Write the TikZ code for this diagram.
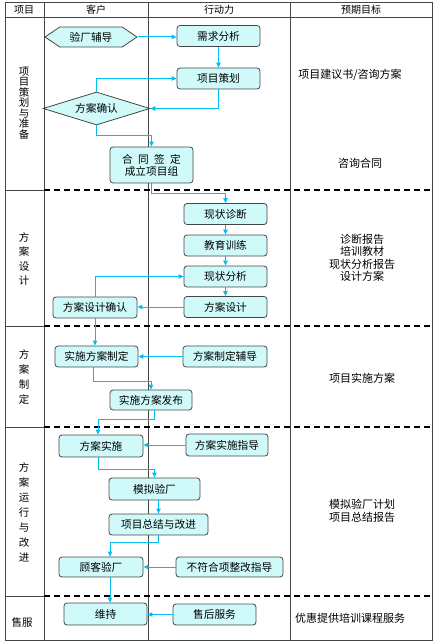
\documentclass[tikz,border=0pt]{standalone}
\usepackage{fontspec}
\setmainfont{Noto Sans CJK SC}
\usetikzlibrary{arrows.meta, shapes.geometric, shapes.symbols}
\definecolor{boxcolor}{RGB}{208,250,250}
\definecolor{flowcolor}{RGB}{0,190,240}
\definecolor{gridcolor}{RGB}{70,70,70}

\begin{document}
\begin{tikzpicture}[x=1pt, y=-1pt, font=\fontsize{10}{11}\selectfont]
    % Define the styles for the table, the boxes and the flow lines
    \tikzstyle{tableline} = [draw=gridcolor, line width=0.9pt]
    \tikzstyle{sepline} = [draw=black, line width=1.3pt, dash pattern=on 6pt off 4pt]
    \tikzstyle{stepbox} = [draw=gridcolor, fill=boxcolor, rounded corners=3pt, line width=0.8pt, minimum width=83pt, minimum height=21pt, inner sep=1pt, font=\fontsize{10.7}{12}\selectfont]
    \tikzstyle{shapebox} = [draw=gridcolor, fill=boxcolor, line width=0.8pt, inner sep=0pt, font=\fontsize{10.7}{12}\selectfont]
    \tikzstyle{flowline} = [draw=flowcolor, line width=1pt, -{Triangle[length=5pt, width=4.5pt]}]
    \tikzstyle{rowlabel} = [align=center, font=\fontsize{10.5}{15}\selectfont]
    \tikzstyle{goal} = [align=center, font=\fontsize{11}{12.5}\selectfont]

    \useasboundingbox (0,0) rectangle (435,644);

    % Table frame and columns
    \draw[tableline] (5,2) rectangle (432,640);
    \draw[tableline] (5,17) -- (432,17);
    \foreach \x in {44,148,290}
        \draw[tableline] (\x,2) -- (\x,640);

    % Row separators: solid in the first column, dashed in the others
    \foreach \y in {190,326,427,596} {
        \draw[tableline] (5,\y) -- (44,\y);
        \draw[sepline] (44,\y) -- (432,\y);
    }

    % Header
    \node (h1) at (24,10) {项目};
    \node (h2) at (96,10) {客户};
    \node (h3) at (219,10) {行动力};
    \node (h4) at (361,10) {预期目标};

    % Row labels
    \node[rowlabel, font=\fontsize{10.5}{10.5}\selectfont] (r1) at (24,103) {项\\目\\策\\划\\与\\准\\备};
    \node[rowlabel, font=\fontsize{10.5}{14.3}\selectfont] (r2) at (24,259) {方\\案\\设\\计};
    \node[rowlabel] (r3) at (24,377) {方\\案\\制\\定};
    \node[rowlabel] (r4) at (24,512) {方\\案\\运\\行\\与\\改\\进};
    \node[rowlabel] (r5) at (22,623) {售服};

    % Stage 1: project planning
    \node[shapebox, signal, signal to=west and east, signal pointer angle=68, minimum width=92pt, minimum height=20pt] (yanchang) at (91,37) {验厂辅导};
    \node[stepbox] (xuqiu) at (218.5,36) {需求分析};
    \node[stepbox] (cehua) at (218.5,78.5) {项目策划};
    \node[shapebox, diamond, aspect=3.2, minimum width=107pt, minimum height=33pt] (queren) at (96.5,108.5) {方案确认};
    \node[stepbox, minimum height=36pt, align=center] (hetong) at (151.5,165) {合\hspace{0.5em}同\hspace{0.5em}签\hspace{0.5em}定\\成立项目组};

    % Stage 2: design
    \node[stepbox] (zhenduan) at (225.5,214) {现状诊断};
    \node[stepbox] (jiaoyu) at (225.5,245.5) {教育训练};
    \node[stepbox] (fenxi) at (225.5,276.5) {现状分析};
    \node[stepbox] (sheji) at (225.5,307) {方案设计};
    \node[stepbox, minimum width=84pt] (shejiqr) at (95,307.5) {方案设计确认};

    % Stage 3: drafting
    \node[stepbox] (zhiding) at (96.5,356.5) {实施方案制定};
    \node[stepbox, minimum width=84pt] (zdfudao) at (225,356.5) {方案制定辅导};
    \node[stepbox, minimum width=82pt, minimum height=20pt] (fabu) at (151,400) {实施方案发布};

    % Stage 4: running and improving
    \node[stepbox, minimum width=84pt, minimum height=22pt] (shishi) at (101,446) {方案实施};
    \node[stepbox, minimum width=82pt, minimum height=22pt] (shszhidao) at (227,445) {方案实施指导};
    \node[stepbox, minimum width=91pt, minimum height=22pt] (moni) at (154.5,489) {模拟验厂};
    \node[stepbox, minimum width=99pt] (zongjie) at (158.5,524.5) {项目总结与改进};
    \node[stepbox, minimum width=84pt, minimum height=20pt] (guke) at (101,567) {顾客验厂};
    \node[stepbox, minimum width=107pt, minimum height=20pt] (buhege) at (229.5,567) {不符合项整改指导};

    % Stage 5: after-sales service
    \node[stepbox, minimum height=22pt] (weichi) at (105.5,614) {维持};
    \node[stepbox] (shouhou) at (214.5,614.5) {售后服务};

    % Expected goals
    \node[goal] (g1) at (350,75) {项目建议书/咨询方案};
    \node[goal] (g2) at (360,163) {咨询合同};
    \node[goal] (g3) at (362,258) {诊断报告\\培训教材\\现状分析报告\\设计方案};
    \node[goal] (g4) at (362,378) {项目实施方案};
    \node[goal] (g5) at (362,511) {模拟验厂计划\\项目总结报告};
    \node[goal] (g6) at (350,618) {优惠提供培训课程服务};

    % Flow lines
    \draw[flowline] (yanchang.east) -- (yanchang.east -| xuqiu.west);
    \draw[flowline] (xuqiu.south) -- (cehua.north);
    \draw[flowline] (queren.north) |- (cehua.west);
    \draw[flowline] (cehua.south) |- (queren.east);
    \draw[flowline] (queren.south) -- ++(0,10) -| (hetong.north);
    \draw[flowline] (hetong.south) -- ++(0,10) -| (zhenduan.north);
    \draw[flowline] (zhenduan.south) -- (jiaoyu.north);
    \draw[flowline] (jiaoyu.south) -- (fenxi.north);
    \draw[flowline] (fenxi.south) -- (sheji.north);
    \draw[flowline] (sheji.west) -- (sheji.west -| shejiqr.east);
    \draw[flowline] (shejiqr.north) |- (fenxi.west);
    \draw[flowline] (shejiqr.south) -- (shejiqr.south |- zhiding.north);
    \draw[flowline] (zdfudao.west) -- (zdfudao.west -| zhiding.east);
    \draw[flowline] ([xshift=-3pt]zhiding.south) -- ++(0,14) -| (fabu.north);
    \draw[flowline] ([xshift=3pt]fabu.south) -- ++(0,9) -| ([xshift=-3pt]shishi.north);
    \draw[flowline] (shszhidao.west) -- (shszhidao.west -| shishi.east);
    \draw[flowline] ([xshift=-3pt]shishi.south) -- ++(0,12) -| (moni.north);
    \draw[flowline] (moni.south -| zongjie.north) -- (zongjie.north);
    \draw[flowline] (zongjie.south) -- ++(0,7) -| ([xshift=9pt]guke.north);
    \draw[flowline] (buhege.west) -- (buhege.west -| guke.east);
    \draw[flowline] ([xshift=9pt]guke.south) -- ([xshift=9pt]guke.south |- weichi.north);
    \draw[flowline] (shouhou.west) -- (shouhou.west -| weichi.east);
\end{tikzpicture}
\end{document}
